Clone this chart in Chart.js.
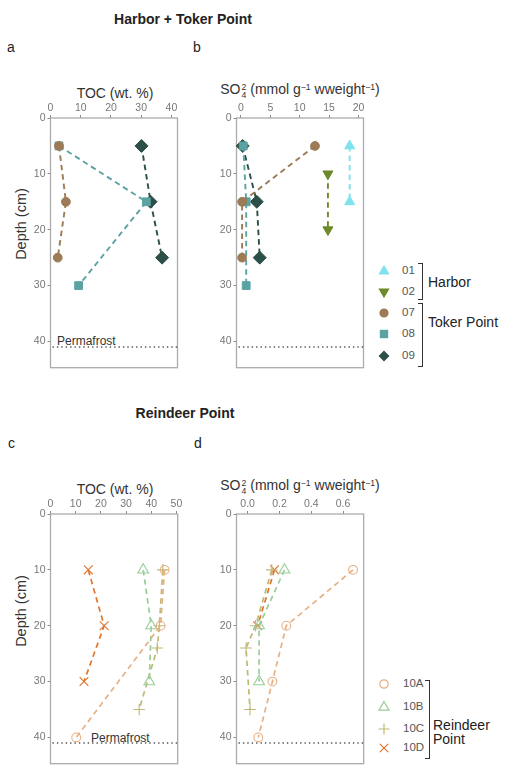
<!DOCTYPE html>
<html><head><meta charset="utf-8">
<script src="https://cdn.jsdelivr.net/npm/chart.js@4/dist/chart.umd.min.js"></script>
<style>
body{margin:0;width:509px;height:768px;overflow:hidden;background:#fff;position:relative;font-family:"Liberation Sans",Arial,Helvetica,sans-serif;color:#222;}
.t{position:absolute;white-space:nowrap;line-height:1;}
.c{transform:translate(-50%,-50%);}
.l{transform:translate(0,-50%);}
canvas{position:absolute;}
.ss{display:inline-block;font-size:0.62em;line-height:0.9;vertical-align:-0.42em;text-align:left;margin-left:1px;}
sup{font-size:0.62em;line-height:0;vertical-align:0.55em;}
.br{position:absolute;border:1.3px solid #333;border-left:none;width:4px;}
.lg{position:absolute;font-size:11.5px;color:#555;transform:translate(0,-50%);line-height:1;}
svg{position:absolute;overflow:visible;}
</style></head>
<body>
<div class="t c" style="left:183px;top:19px;font-weight:bold;font-size:14px;">Harbor + Toker Point</div>
<div class="t l" style="left:7px;top:47px;font-size:14px;">a</div>
<div class="t l" style="left:193px;top:47px;font-size:14px;">b</div>
<div class="t c" style="left:115px;top:93px;font-size:14px;color:#333;">TOC (wt. %)</div>
<div class="t c" style="left:300px;top:91px;font-size:14px;color:#333;">SO<span class="ss">2<br>4</span> (mmol g<sup>−1</sup> wweight<sup>−1</sup>)</div>
<div class="t c" style="left:21px;top:224px;font-size:14.5px;color:#333;transform:translate(-50%,-50%) rotate(-90deg);">Depth (cm)</div>
<div class="t l" style="left:57px;top:341px;font-size:12px;color:#333;">Permafrost</div>

<div class="t c" style="left:185px;top:413px;font-weight:bold;font-size:14px;">Reindeer Point</div>
<div class="t l" style="left:8px;top:443px;font-size:14px;">c</div>
<div class="t l" style="left:194px;top:443px;font-size:14px;">d</div>
<div class="t c" style="left:115px;top:489px;font-size:14px;color:#333;">TOC (wt. %)</div>
<div class="t c" style="left:300px;top:487px;font-size:14px;color:#333;">SO<span class="ss">2<br>4</span> (mmol g<sup>−1</sup> wweight<sup>−1</sup>)</div>
<div class="t c" style="left:21px;top:611px;font-size:14.5px;color:#333;transform:translate(-50%,-50%) rotate(-90deg);">Depth (cm)</div>
<div class="t l" style="left:91px;top:738px;font-size:12px;color:#333;">Permafrost</div>

<canvas id="ca" width="185" height="306" style="left:0;top:70px;"></canvas>
<canvas id="cb" width="185" height="306" style="left:186px;top:70px;"></canvas>
<canvas id="cc" width="185" height="306" style="left:0;top:466px;"></canvas>
<canvas id="cd" width="185" height="306" style="left:186px;top:466px;"></canvas>

<div class="br" style="left:418px;top:263px;height:35px;"></div>
<div class="t l" style="left:428px;top:282px;font-size:14px;">Harbor</div>
<div class="br" style="left:418px;top:303px;height:62px;"></div>
<div class="t l" style="left:428px;top:322px;font-size:14px;">Toker Point</div>
<div class="br" style="left:425px;top:680px;height:77px;"></div>
<div class="t l" style="left:433px;top:725px;font-size:14px;">Reindeer</div>
<div class="t l" style="left:433px;top:739px;font-size:14px;">Point</div>
<div id="legend"></div>

<script>
// ---------- tick labels ----------
const depthTicks = [0, 10, 20, 30, 40];
const tocTicksTop = [0, 10, 20, 30, 40];
const so4TicksTop = [0, 5, 10, 15, 20];
const tocTicksBottom = [0, 10, 20, 30, 40, 50];
const so4TicksBottom = [0, 0.2, 0.4, 0.6];
const permafrostDepth = 41;

// ---------- Harbor + Toker Point ----------
const topSeries = ['01', '02', '07', '08', '09'];
const depth01 = [5, 15];      const so4_01 = [18.5, 18.5];
const depth02 = [10, 20];     const so4_02 = [14.8, 14.8];
const depth07 = [5, 15, 25];  const toc07 = [2.8, 5.1, 2.4];   const so4_07 = [12.6, 0.2, 0.2];
const depth08 = [5, 15, 30];  const toc08 = [2.8, 31.7, 9.3];  const so4_08 = [0.4, 0.9, 0.9];
const depth09 = [5, 15, 25];  const toc09 = [30.1, 33.1, 36.9]; const so4_09 = [0.3, 2.7, 3.2];

// ---------- Reindeer Point ----------
const bottomSeries = ['10A', '10B', '10C', '10D'];
const depth10A_toc = [10, 20, 40];      const toc10A = [45.3, 43.7, 10.2];
const depth10A_so4 = [10, 20, 30, 40];  const so4_10A = [0.663, 0.243, 0.156, 0.067];
const depth10B = [10, 20, 30];          const toc10B = [36.8, 40.0, 39.2]; const so4_10B = [0.232, 0.072, 0.072];
const depth10C = [10, 20, 24, 35];      const toc10C = [44.6, 43.2, 42.4, 35.2]; const so4_10C = [0.152, 0.05, -0.01, 0.015];
const depth10D_toc = [10, 20, 30];      const toc10D = [15.0, 21.3, 13.3];
const depth10D_so4 = [10, 20];          const so4_10D = [0.169, 0.063];

// ---------- styles ----------
const FONT = '"Liberation Sans", Arial, Helvetica, sans-serif';
const STY = {
  '01':  {color:'#7FE2EC', style:'triangle', r:5.8, rot:0,   fill:true},
  '02':  {color:'#6C8A2C', style:'triangle', r:5.8, rot:180, fill:true},
  '07':  {color:'#9C7B55', style:'circle',   r:4.4, rot:0,   fill:true},
  '08':  {color:'#5BA3A3', style:'rect',     r:5.5, rot:0,   fill:true},
  '09':  {color:'#2C4F48', style:'rectRot',  r:6.5, rot:0,   fill:true},
  '10A': {color:'#E6B185', style:'circle',   r:4.4, rot:0,   fill:false},
  '10B': {color:'#98CE99', style:'triangle', r:6.2, rot:0,   fill:false},
  '10C': {color:'#C0B874', style:'cross',    r:5.8, rot:0,   fill:false},
  '10D': {color:'#E0752F', style:'crossRot', r:6.2, rot:0,   fill:false}
};

function ds(name, depths, vals, lw) {
  const s = STY[name];
  return {
    label: name,
    data: depths.map((d, i) => ({x: vals[i], y: d})),
    showLine: true,
    borderColor: s.color,
    borderWidth: lw,
    borderDash: [5.5, 4],
    pointStyle: s.style,
    pointRadius: s.r,
    pointHoverRadius: s.r,
    pointRotation: s.rot,
    pointBackgroundColor: s.fill ? s.color : 'rgba(0,0,0,0)',
    pointBorderColor: s.color,
    pointBorderWidth: s.fill ? 1 : 1.1,
    clip: false
  };
}

const boxPlugin = {
  id: 'box',
  beforeDatasetsDraw(chart) {
    const {ctx, chartArea: a} = chart;
    ctx.save();
    ctx.strokeStyle = '#ABABAB';
    ctx.lineWidth = 1.3;
    ctx.strokeRect(a.left, a.top, a.right - a.left, a.bottom - a.top);
    const y = chart.scales.y.getPixelForValue(permafrostDepth);
    ctx.strokeStyle = '#555';
    ctx.lineWidth = 1.4;
    ctx.setLineDash([1.4, 3]);
    ctx.beginPath();
    ctx.moveTo(a.left + 2, y);
    ctx.lineTo(a.right, y);
    ctx.stroke();
    ctx.restore();
  }
};

function makeChart(id, datasets, xMin, xMax, xTicks, fmt, yMin, yMax) {
  const tickFont = {size: 10.5, family: FONT};
  return new Chart(document.getElementById(id), {
    type: 'scatter',
    data: {datasets},
    plugins: [boxPlugin],
    options: {
      responsive: false,
      animation: false,
      events: [],
      layout: {padding: {left: 0, right: 6, top: 0, bottom: 3}},
      plugins: {legend: {display: false}, tooltip: {enabled: false}},
      scales: {
        x: {
          type: 'linear', position: 'top', min: xMin, max: xMax,
          afterBuildTicks: s => { s.ticks = xTicks.map(v => ({value: v})); },
          afterFit: s => { s.height = 48; },
          ticks: {autoSkip: false, maxRotation: 0, minRotation: 0, padding: 1, color: '#777', font: tickFont, callback: fmt},
          grid: {drawOnChartArea: false, drawTicks: true, tickLength: 3, color: '#8A8A8A'},
          border: {display: false}
        },
        y: {
          type: 'linear', reverse: true, min: yMin, max: yMax,
          afterBuildTicks: s => { s.ticks = depthTicks.map(v => ({value: v})); },
          afterFit: s => { s.width = 50.5; },
          ticks: {autoSkip: false, padding: 2, color: '#777', font: tickFont},
          grid: {drawOnChartArea: false, drawTicks: true, tickLength: 3, color: '#8A8A8A'},
          border: {display: false}
        }
      }
    }
  });
}

const intFmt = v => String(v);
const decFmt = v => v.toFixed(1);

makeChart('ca', [
  ds('07', depth07, toc07, 1.9),
  ds('08', depth08, toc08, 1.9),
  ds('09', depth09, toc09, 1.9)
], 0, 42, tocTicksTop, intFmt, 0, 44.7);

makeChart('cb', [
  ds('01', depth01, so4_01, 1.9),
  ds('02', depth02, so4_02, 1.9),
  ds('07', depth07, so4_07, 1.9),
  ds('08', depth08, so4_08, 1.9),
  ds('09', depth09, so4_09, 1.9)
], -0.75, 20.85, so4TicksTop, intFmt, 0, 44.7);

makeChart('cc', [
  ds('10A', depth10A_toc, toc10A, 1.7),
  ds('10B', depth10B, toc10B, 1.7),
  ds('10C', depth10C, toc10C, 1.7),
  ds('10D', depth10D_toc, toc10D, 1.7)
], 0, 50.5, tocTicksBottom, intFmt, 0, 44.7);

makeChart('cd', [
  ds('10A', depth10A_so4, so4_10A, 1.7),
  ds('10B', depth10B, so4_10B, 1.7),
  ds('10C', depth10C, so4_10C, 1.7),
  ds('10D', depth10D_so4, so4_10D, 1.7)
], -0.07, 0.73, so4TicksBottom, decFmt, 0, 44.7);

// ---------- legend ----------
const legendTopY = [271, 292, 312.5, 334, 356];
const legendBottomY = [684, 707, 729, 748];
function markerSVG(name) {
  const s = STY[name];
  const f = s.fill ? s.color : 'none';
  const st = `stroke="${s.color}" stroke-width="1.2" fill="${f}"`;
  switch (name) {
    case '01': return `<polygon points="0,-5 4.6,3 -4.6,3" ${st}/>`;
    case '02': return `<polygon points="0,5 4.6,-3 -4.6,-3" ${st}/>`;
    case '07': return `<circle r="4" ${st}/>`;
    case '08': return `<rect x="-3.6" y="-3.6" width="7.2" height="7.2" ${st}/>`;
    case '09': return `<polygon points="0,-4.6 4.6,0 0,4.6 -4.6,0" ${st}/>`;
    case '10A': return `<circle r="4.2" ${st}/>`;
    case '10B': return `<polygon points="0,-5.5 5,3.2 -5,3.2" ${st}/>`;
    case '10C': return `<path d="M-5.5,0H5.5M0,-5.5V5.5" ${st}/>`;
    case '10D': return `<path d="M-4.2,-4.2L4.2,4.2M-4.2,4.2L4.2,-4.2" ${st}/>`;
  }
}
let html = '';
topSeries.forEach((n, i) => {
  html += `<svg width="12" height="12" style="left:378px;top:${legendTopY[i]-6}px" viewBox="-6 -6 12 12">${markerSVG(n)}</svg>`;
  html += `<div class="lg" style="left:402px;top:${legendTopY[i]}px">${n}</div>`;
});
bottomSeries.forEach((n, i) => {
  html += `<svg width="12" height="12" style="left:378px;top:${legendBottomY[i]-6}px" viewBox="-6 -6 12 12">${markerSVG(n)}</svg>`;
  html += `<div class="lg" style="left:403px;top:${legendBottomY[i]}px">${n}</div>`;
});
document.getElementById('legend').innerHTML = html;
</script>
</body></html>
